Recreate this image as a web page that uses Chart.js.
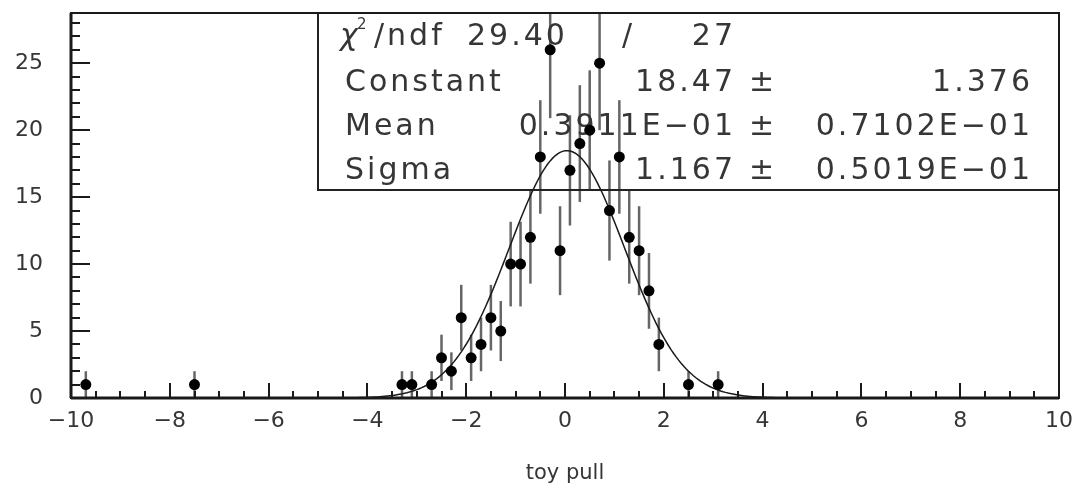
<!DOCTYPE html>
<html>
<head>
<meta charset="utf-8">
<script src="https://cdn.jsdelivr.net/npm/chart.js@4.4.0/dist/chart.umd.min.js"></script>
<style>
  html, body { margin: 0; padding: 0; background: #fff; }
  #wrap { width: 1075px; height: 486px; }
</style>
</head>
<body>
<div id="wrap"><canvas id="pullChart" width="1075" height="486"></canvas></div>
<script>
// Toy pull histogram, bins of width 0.2 (only filled bins listed)
const binCenters = [-9.7, -7.5, -3.3, -3.1, -2.7, -2.5, -2.3, -2.1, -1.9, -1.7,
                    -1.5, -1.3, -1.1, -0.9, -0.7, -0.5, -0.3, -0.1, 0.1, 0.3,
                    0.5, 0.7, 0.9, 1.1, 1.3, 1.5, 1.7, 1.9, 2.5, 3.1];
const binCounts = [1, 1, 1, 1, 1, 3, 2, 6, 3, 4,
                   6, 5, 10, 10, 12, 18, 26, 11, 17, 19,
                   20, 25, 14, 18, 12, 11, 8, 4, 1, 1];
const binErrors = [1, 1, 1, 1, 1, 1.73, 1.41, 2.45, 1.73, 2,
                   2.45, 2.24, 3.16, 3.16, 3.46, 4.24, 5.1, 3.32, 4.12, 4.36,
                   4.47, 5, 3.74, 4.24, 3.46, 3.32, 2.83, 2, 1, 1];

const xTicks = [-10, -8, -6, -4, -2, 0, 2, 4, 6, 8, 10];
const yTicks = [0, 5, 10, 15, 20, 25];

// Gaussian fit result
const fitConstant = 18.47;
const fitMean = 0.03911;
const fitSigma = 1.167;
const fitChi2 = '29.40';
const fitNdf = '27';
const fitRows = [
  ['Constant', '18.47', '1.376'],
  ['Mean', '0.3911E\u221201', '0.7102E\u221201'],
  ['Sigma', '1.167', '0.5019E\u221201']
];

const FONT = "'DejaVu Sans', sans-serif";
const TEXT = '#363636';

const points = binCenters.map((x, i) => ({ x: x, y: binCounts[i] }));

// fit function sampled over the plotted range
const fitCurve = [];
for (let i = 0; i <= 200; i++) {
  const x = -5 + i * 0.05;
  const z = (x - fitMean) / fitSigma;
  fitCurve.push({ x: x, y: fitConstant * Math.exp(-0.5 * z * z) });
}

// vertical error bars, clipped to the plot area
const errorBars = {
  id: 'errorBars',
  beforeDatasetsDraw(chart) {
    const { ctx, chartArea: a, scales: { x, y } } = chart;
    ctx.save();
    ctx.beginPath();
    ctx.rect(a.left, a.top, a.right - a.left, a.bottom - a.top);
    ctx.clip();
    ctx.strokeStyle = '#666';
    ctx.lineWidth = 2.5;
    binCenters.forEach((c, i) => {
      const px = x.getPixelForValue(c);
      ctx.beginPath();
      ctx.moveTo(px, y.getPixelForValue(Math.max(0, binCounts[i] - binErrors[i])));
      ctx.lineTo(px, y.getPixelForValue(binCounts[i] + binErrors[i]));
      ctx.stroke();
    });
    ctx.restore();
  }
};

// fit statistics box
const statsBox = {
  id: 'statsBox',
  beforeDatasetsDraw(chart) {
    const { ctx, chartArea: a } = chart;
    const left = 318, top = a.top, right = a.right, bottom = 190;
    ctx.save();
    ctx.strokeStyle = '#222';
    ctx.lineWidth = 2;
    ctx.strokeRect(left, top, right - left, bottom - top);

    ctx.fillStyle = TEXT;
    ctx.textBaseline = 'alphabetic';
    ctx.letterSpacing = '3px';

    // chi2 / ndf row
    ctx.textAlign = 'left';
    ctx.font = 'italic 30px ' + FONT;
    ctx.fillText('\u03c7', 340, 45);
    ctx.letterSpacing = '0px';
    ctx.font = '15px ' + FONT;
    ctx.fillText('2', 357, 29);
    ctx.letterSpacing = '3px';
    ctx.font = '30px ' + FONT;
    ctx.fillText('/ndf', 374, 45);
    ctx.fillText(fitChi2, 467, 45);
    ctx.fillText('/', 622, 45);
    ctx.textAlign = 'right';
    ctx.fillText(fitNdf, 736, 45);

    fitRows.forEach((row, i) => {
      const base = 91 + i * 44;
      ctx.textAlign = 'left';
      ctx.fillText(row[0], 345, base);
      ctx.fillText('\u00b1', 749, base);
      ctx.textAlign = 'right';
      ctx.fillText(row[1], 736, base);
      ctx.fillText(row[2], 1033, base);
    });
    ctx.restore();
  }
};

// frame and inward tick marks
const frameTicks = {
  id: 'frameTicks',
  afterDatasetsDraw(chart) {
    const { ctx, chartArea: a, scales: { x, y } } = chart;
    ctx.save();
    ctx.strokeStyle = '#1a1a1a';
    ctx.lineWidth = 2;
    ctx.strokeRect(a.left, a.top, a.right - a.left, a.bottom - a.top);
    ctx.lineWidth = 3;
    ctx.beginPath();
    ctx.moveTo(a.left, a.bottom);
    ctx.lineTo(a.right, a.bottom);
    ctx.moveTo(a.left, a.top);
    ctx.lineTo(a.left, a.bottom);
    ctx.stroke();

    ctx.lineWidth = 2;
    ctx.beginPath();
    for (let v = x.min; v <= x.max + 1e-9; v += 0.5) {
      const px = Math.round(x.getPixelForValue(v));
      const len = Math.abs(v % 2) < 1e-9 ? 15 : 7;
      ctx.moveTo(px, a.bottom);
      ctx.lineTo(px, a.bottom - len);
    }
    for (let v = 0; v <= y.max; v += 1) {
      const py = Math.round(y.getPixelForValue(v));
      const len = v % 5 === 0 ? 19 : 9;
      ctx.moveTo(a.left, py);
      ctx.lineTo(a.left + len, py);
    }
    ctx.stroke();
    ctx.restore();
  }
};

const ctx = document.getElementById('pullChart');
new Chart(ctx, {
  type: 'scatter',
  data: {
    datasets: [
      {
        label: 'toy pull',
        data: points,
        pointRadius: 5.5,
        pointBackgroundColor: '#000',
        pointBorderWidth: 0,
        showLine: false
      },
      {
        label: 'gaus fit',
        type: 'line',
        data: fitCurve,
        borderColor: '#1a1a1a',
        borderWidth: 1.5,
        pointRadius: 0,
        fill: false,
        tension: 0
      }
    ]
  },
  options: {
    responsive: false,
    animation: false,
    layout: { padding: { top: 13, right: 16, left: 0, bottom: 0 } },
    plugins: {
      legend: { display: false },
      tooltip: { enabled: false }
    },
    scales: {
      x: {
        type: 'linear',
        min: -10,
        max: 10,
        grid: { display: false, drawTicks: false },
        border: { display: false },
        afterBuildTicks: s => { s.ticks = xTicks.map(v => ({ value: v })); },
        afterFit: s => {
          s.height = 88;
          s.paddingLeft = 0;
          s.paddingRight = 0;
        },
        ticks: {
          padding: 10,
          maxRotation: 0,
          color: TEXT,
          font: { family: FONT, size: 22 },
          callback: v => (v < 0 ? '\u2212' + Math.abs(v) : String(v))
        },
        title: {
          display: true,
          text: 'toy pull',
          color: TEXT,
          font: { family: FONT, size: 21 },
          padding: { top: 0, bottom: 0 }
        }
      },
      y: {
        min: 0,
        max: 28.75,
        grid: { display: false, drawTicks: false },
        border: { display: false },
        afterBuildTicks: s => { s.ticks = yTicks.map(v => ({ value: v })); },
        afterFit: s => {
          s.width = 71;
          s.paddingTop = 0;
          s.paddingBottom = 0;
        },
        ticks: {
          padding: 28,
          color: TEXT,
          font: { family: FONT, size: 22 }
        }
      }
    }
  },
  plugins: [errorBars, statsBox, frameTicks]
});
</script>
</body>
</html>
